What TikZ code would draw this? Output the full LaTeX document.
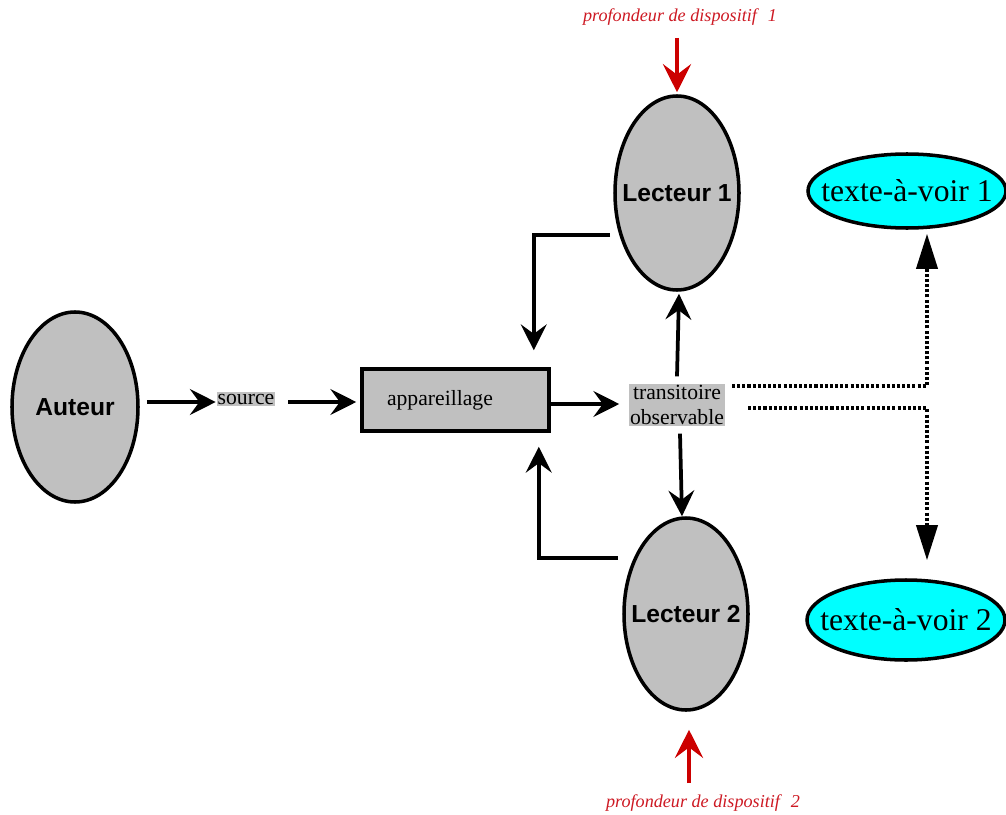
\documentclass[tikz,border=0pt]{standalone}
\usepackage{fontspec}
\setmainfont{Liberation Serif}
\newfontfamily\arial{Liberation Sans}
\usetikzlibrary{shapes.geometric,arrows.meta}
\definecolor{silver}{RGB}{192, 192, 192}
\definecolor{aqua}{RGB}{0, 255, 255}
\definecolor{carmine}{RGB}{204, 0, 0}
\definecolor{carminetext}{RGB}{205, 25, 35}
\newcommand\inell[1]{\makebox[0pt]{#1}}

\begin{document}
\begin{tikzpicture}[x=0.03cm, y=-0.03cm,
    lecteur/.style={ellipse, draw, line width=3pt, fill=silver, inner sep=0pt,
                    font=\arial\bfseries\fontsize{21}{25}\selectfont},
    voir/.style   ={ellipse, draw, line width=3pt, fill=aqua, inner sep=0pt,
                    font=\fontsize{27}{30}\selectfont},
    boite/.style  ={rectangle, draw, line width=3pt, fill=silver,
                    font=\fontsize{18.5}{21}\selectfont},
    grisbg/.style ={rectangle, fill=silver, inner xsep=0.5pt, inner ysep=1.5pt,
                    font=\fontsize{18.5}{21}\selectfont},
    prof/.style   ={text=carminetext, font=\itshape\fontsize{15.5}{18}\selectfont},
    fleche/.style ={line width=3.2pt, -{Stealth[length=22pt, width=22pt, inset=8pt]}},
    pointille/.style={line width=3.2pt, dash pattern=on 2.6pt off 1.8pt,
                    -{Triangle[length=30pt, width=18pt]}},
    rouge/.style  ={carmine, line width=3.2pt, -{Stealth[length=24pt, width=24pt, inset=9pt]}}]
    \useasboundingbox (0,0) rectangle (1006,815);

    \node[lecteur, minimum width=3.78cm, minimum height=5.70cm] (auteur) at ( 75,407) {\inell{Auteur}};
    \node[lecteur, minimum width=3.72cm, minimum height=5.82cm] (lec1)   at (677,193) {\inell{Lecteur 1}};
    \node[lecteur, minimum width=3.72cm, minimum height=5.76cm] (lec2)   at (686,614) {\inell{Lecteur 2}};
    \node[voir,    minimum width=5.94cm, minimum height=2.22cm] (voir1)  at (907,191) {\inell{texte-à-voir 1}};
    \node[voir,    minimum width=5.94cm, minimum height=2.40cm] (voir2)  at (906,620) {\inell{texte-à-voir 2}};
    \node[boite,   minimum height=1.86cm, text width=4.11cm, inner xsep=0.75cm, align=left]
                                                               (app)    at (455.5,400) {appareillage};
    \node[grisbg]                                              (source) at (246,399) {source};
    \node[grisbg, align=center]                                (trans)  at (677,405) {transitoire\\observable};
    \node[prof]                                                (prof1)  at (680, 17) {profondeur de dispositif\hspace{0.6em}1};
    \node[prof]                                                (prof2)  at (703,803) {profondeur de dispositif\hspace{0.6em}2};

    \coordinate (l1out) at (610,235);
    \coordinate (l2out) at (618,558);
    \coordinate (t1out) at (732,386);
    \coordinate (t2out) at (748,408);
    \coordinate (p1)    at (677, 38);
    \coordinate (p2)    at (689,783);

    \draw[fleche] ([xshift=0.21cm, yshift=0.15cm]auteur.east) -- ([xshift=-1pt, yshift=-0.09cm]source.west);
    \draw[fleche] ([xshift=0.39cm, yshift=-0.09cm]source.east) -- ([xshift=-0.12cm, yshift=-0.06cm]app.west);
    \draw[fleche] ([yshift=-0.12cm]app.east) -- ([xshift=-0.30cm, yshift=-0.12cm]app.east -| trans.west);
    \draw[fleche] ([yshift=0.21cm]trans.north) -- ([xshift=0.06cm, yshift=-0.06cm]lec1.south);
    \draw[fleche] ([xshift=0.09cm, yshift=-0.21cm]trans.south) -- ([xshift=-0.12cm]lec2.north);
    \draw[fleche] (l1out) -| ([xshift=-0.51cm, yshift=0.51cm]app.north east);
    \draw[fleche] (l2out) -| ([xshift=-0.36cm, yshift=-0.42cm]app.south east);
    \draw[pointille] (t1out) -| ([xshift=0.60cm, yshift=-0.12cm]voir1.south);
    \draw[pointille] (t2out) -| ([xshift=0.63cm, yshift=0.54cm]voir2.north);
    \draw[rouge] (p1) -- ([yshift=0.06cm]lec1.north);
    \draw[rouge] (p2) -- ([xshift=0.09cm, yshift=-0.54cm]lec2.south);
\end{tikzpicture}
\end{document}
